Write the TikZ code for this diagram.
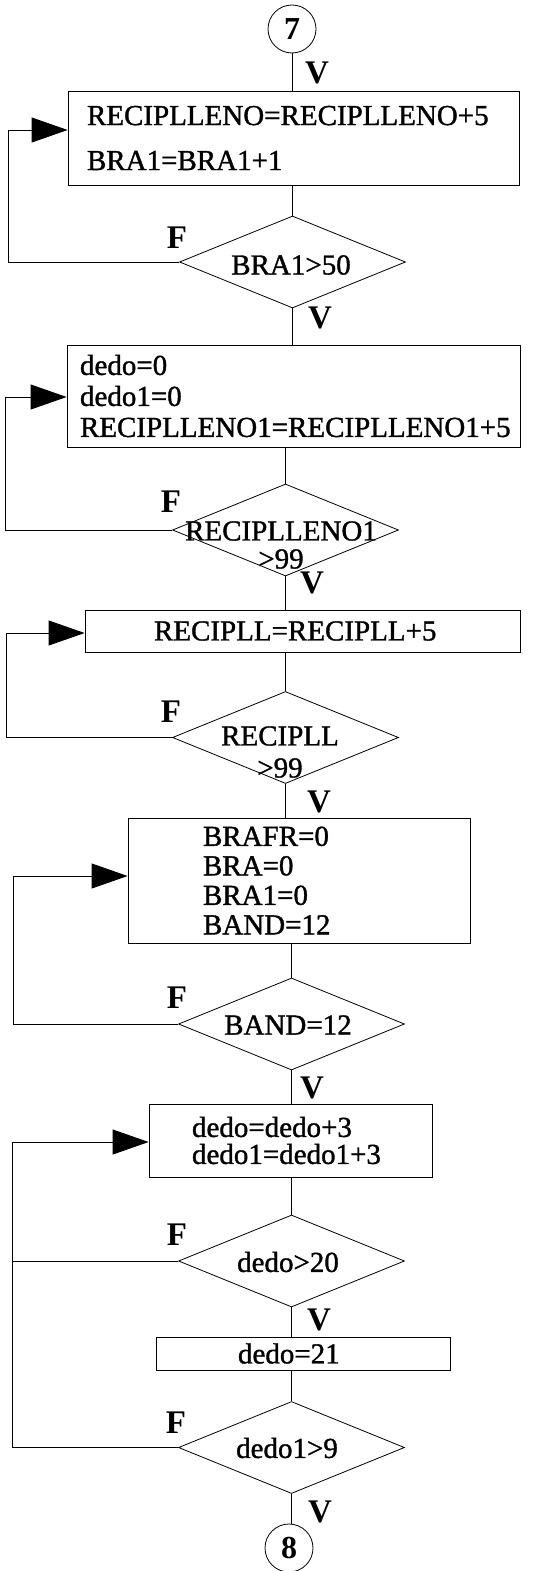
\documentclass[tikz,border=0pt]{standalone}
\usepackage{fontspec}
\setmainfont{Liberation Serif}
\newfontfamily\scanfont{Liberation Serif}[FakeBold=1.2]
\usetikzlibrary{arrows.meta, shapes.geometric, positioning}
\tikzset{
  flowline/.style  = {line width=0.8pt, black},
  backarrow/.style = {flowline, -{Triangle[length=36pt, width=25pt]}},
  procbox/.style   = {draw, line width=0.8pt, rectangle, align=left,
                      inner ysep=0pt, font=\scanfont\fontsize{29}{31}\selectfont},
  decbox/.style    = {draw, line width=0.8pt, diamond, minimum width=226pt,
                      minimum height=92pt, inner sep=0pt},
  connector/.style = {draw, circle, line width=0.8pt, minimum size=48pt,
                      inner sep=0pt, font=\bfseries\fontsize{32}{32}\selectfont},
  lbl/.style       = {font=\scanfont\fontsize{29}{28}\selectfont, inner sep=0pt, align=center},
  vf/.style        = {font=\bfseries\fontsize{33}{33}\selectfont, inner sep=0pt},
}
\begin{document}
\begin{tikzpicture}[x=1pt,y=-1pt]
  \useasboundingbox (0,0) rectangle (543,1571);
  % connectors and process boxes
  \node[connector] (c7) at (292,29) {7};
  \node[procbox, minimum width=451pt, minimum height=94pt, text width=413pt,
        inner xsep=19pt, font=\scanfont\fontsize{29}{45}\selectfont] (b1) at (293.5,138)
        {RECIPLLENO=RECIPLLENO+5\\BRA1=BRA1+1};
  \node[decbox] (d1) at (292.5,262) {};
  \node[lbl] (t1) at (291,265) {BRA1>50};
  \node[procbox, minimum width=453pt, minimum height=102pt, text width=427pt,
        inner xsep=13pt] (b2) at (293.5,396)
        {dedo=0\\dedo1=0\\RECIPLLENO1=RECIPLLENO1+5};
  \node[decbox] (d2) at (285.5,530) {};
  \node[lbl] (t2) at (281,545) {RECIPLLENO1\\>99};
  \node[procbox, minimum width=435pt, minimum height=42pt, text width=297pt,
        inner xsep=69pt] (b3) at (302.5,631) {RECIPLL=RECIPLL+5};
  \node[decbox] (d3) at (285.5,737.5) {};
  \node[lbl, font=\scanfont\fontsize{29}{32}\selectfont] (t3) at (280,752) {RECIPLL\\>99};
  \node[procbox, minimum width=342pt, minimum height=125pt, text width=192pt,
        inner xsep=75pt, font=\scanfont\fontsize{29}{29.5}\selectfont] (b4) at (299,880.5)
        {BRAFR=0\\BRA=0\\BRA1=0\\BAND=12};
  \node[decbox] (d4) at (291.5,1024) {};
  \node[lbl] (t4) at (288,1025) {BAND=12};
  \node[procbox, minimum width=283pt, minimum height=73pt, text width=197pt,
        inner xsep=43pt, font=\scanfont\fontsize{29}{27}\selectfont] (b5) at (290.5,1140.5)
        {dedo=dedo+3\\dedo1=dedo1+3};
  \node[decbox] (d5) at (291.5,1261) {};
  \node[lbl] (t5) at (288,1262) {dedo>20};
  \node[procbox, minimum width=294pt, minimum height=33pt, text width=130pt,
        inner xsep=82pt] (b6) at (303,1353.5) {dedo=21};
  \node[decbox] (d6) at (291.5,1447.5) {};
  \node[lbl] (t6) at (287,1448) {dedo1>9};
  \node[connector] (c8) at (289,1548) {8};

  % main flow
  \draw[flowline] (c7.south) -- (c7.south |- b1.north);
  \draw[flowline] (b1.south -| d1.north) -- (d1.north);
  \draw[flowline] (d1.south) -- (d1.south |- b2.north);
  \draw[flowline] (b2.south -| d2.north) -- (d2.north);
  \draw[flowline] (d2.south) -- (d2.south |- b3.north);
  \draw[flowline] (b3.south -| d3.north) -- (d3.north);
  \draw[flowline] (d3.south) -- (d3.south |- b4.north);
  \draw[flowline] (b4.south -| d4.north) -- (d4.north);
  \draw[flowline] (d4.south) -- (d4.south |- b5.north);
  \draw[flowline] (b5.south -| d5.north) -- (d5.north);
  \draw[flowline] (d5.south) -- (d5.south |- b6.north);
  \draw[flowline] (b6.south -| d6.north) -- (d6.north);
  \draw[flowline] (d6.south) -- (d6.south |- c8.north);

  % false branches back to the boxes
  \coordinate (r1) at (8,130);
  \coordinate (r2) at (5,397);
  \coordinate (r3) at (6,633);
  \coordinate (r4) at (13,876);
  \coordinate (r5) at (12,1142);
  \draw[backarrow] (d1.west) -| (r1) -- (r1 -| b1.west);
  \draw[backarrow] (d2.west) -| (r2) -- (r2 -| b2.west);
  \draw[backarrow] (d3.west) -| (r3) -- (r3 -| b3.west);
  \draw[backarrow] (d4.west) -| (r4) -- (r4 -| b4.west);
  \draw[backarrow] (d5.west) -| (r5) -- (r5 -| b5.west);
  \draw[flowline] (d6.west) -| (r5 |- d5.west);

  % V / F labels
  \node[vf] (v1) at (317,73) {V};
  \node[vf] (v2) at (320,318) {V};
  \node[vf] (v3) at (312,583) {V};
  \node[vf] (v4) at (319,802) {V};
  \node[vf] (v5) at (312,1088) {V};
  \node[vf] (v6) at (319,1320) {V};
  \node[vf] (v7) at (320,1512) {V};
  \node[vf] (f1) at (177,238) {F};
  \node[vf] (f2) at (171,502) {F};
  \node[vf] (f3) at (171,712) {F};
  \node[vf] (f4) at (177,998) {F};
  \node[vf] (f5) at (177,1235) {F};
  \node[vf] (f6) at (176,1423) {F};
\end{tikzpicture}
\end{document}
